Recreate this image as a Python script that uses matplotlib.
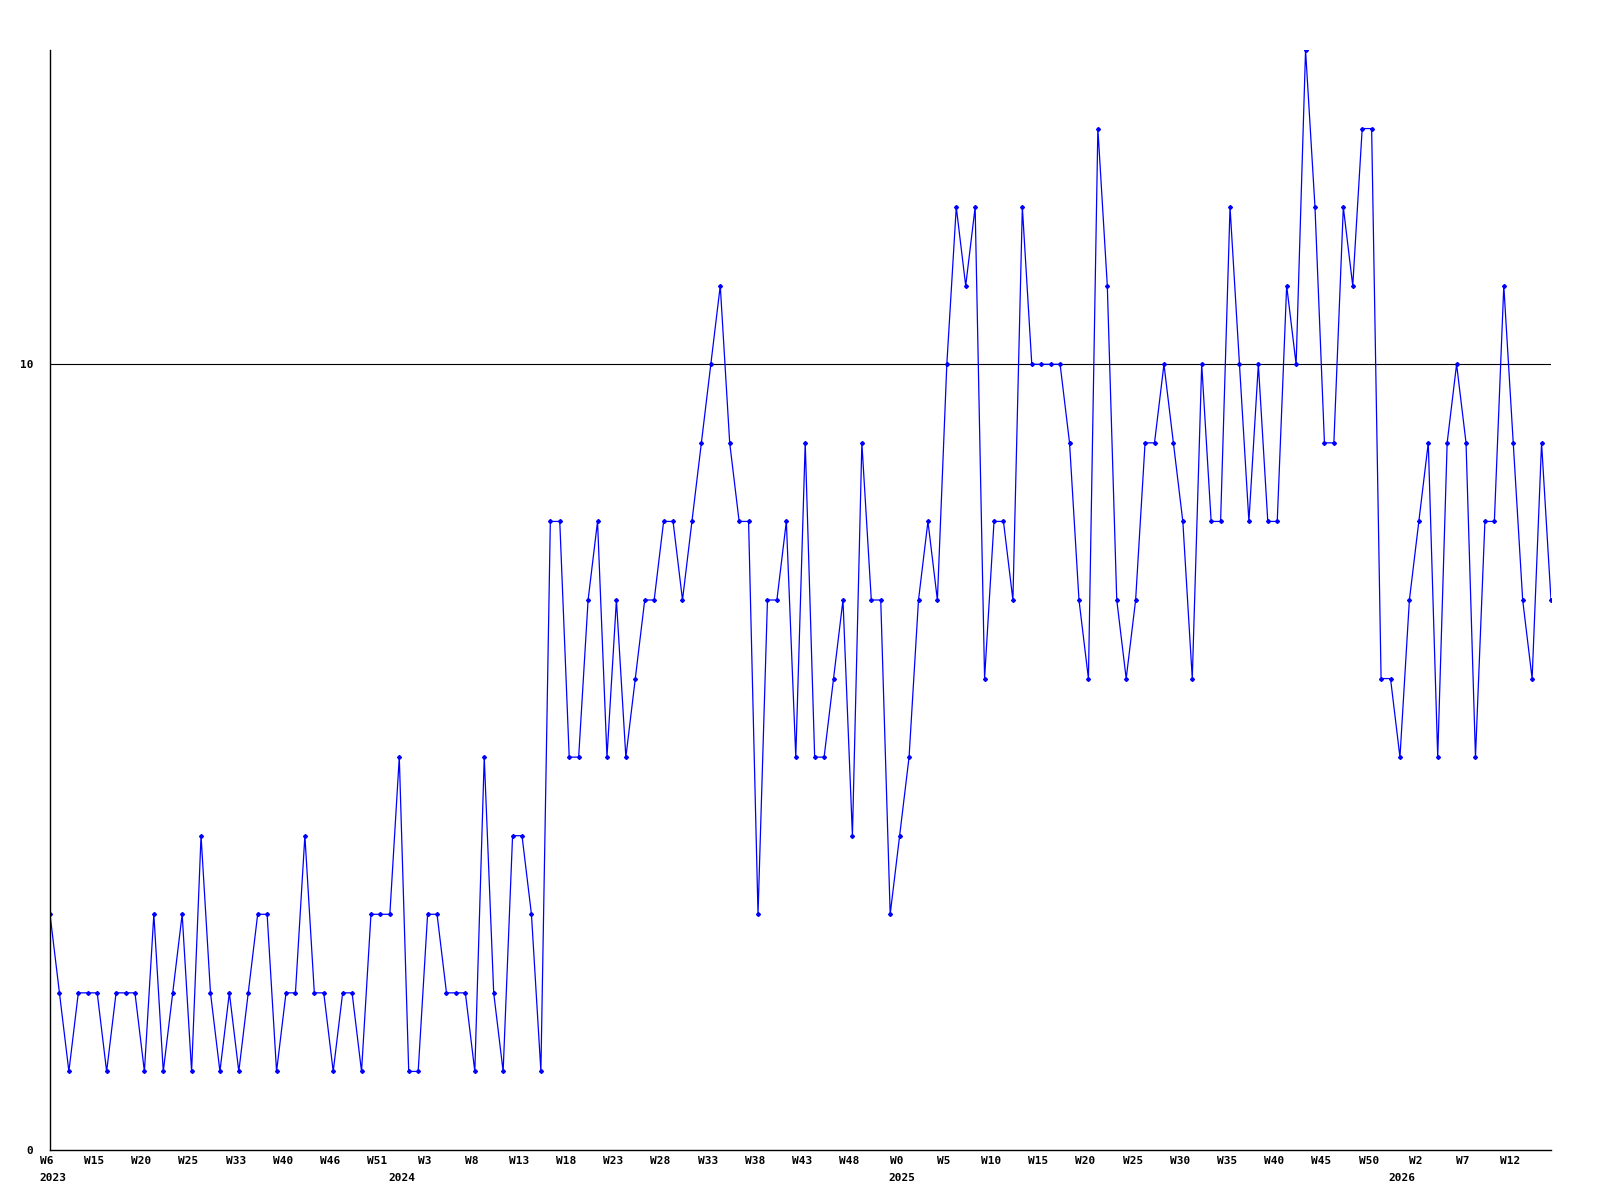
import matplotlib
matplotlib.use("Agg")
import matplotlib.pyplot as plt
import matplotlib.transforms as mtransforms

# weekly counts, one per point
values = [3, 2, 1, 2, 2, 2, 1, 2, 2, 2, 1, 3, 1, 2, 3, 1, 4, 2, 1, 2, 1,
          2, 3, 3, 1, 2, 2, 4, 2, 2, 1, 2, 2, 1, 3, 3, 3, 5, 1, 1, 3, 3, 2, 2, 2,
          1, 5, 2, 1, 4, 4, 3, 1, 8, 8, 5, 5, 7, 8, 5, 7, 5, 6, 7, 7, 8, 8, 7, 8, 9,
          10, 11, 9, 8, 8, 3, 7, 7, 8, 5, 9, 5, 5, 6, 7, 4, 9, 7, 7, 3, 4, 5, 7, 8,
          7, 10, 12, 11, 12, 6, 8, 8, 7, 12, 10, 10, 10, 10, 9, 7, 6, 13, 11, 7, 6, 7, 9, 9, 10,
          9, 8, 6, 10, 8, 8, 12, 10, 8, 10, 8, 8, 11, 10, 14, 12, 9, 9, 12, 11, 13, 13, 6, 6,
          5, 7, 8, 9, 5, 9, 10, 9, 5, 8, 8, 11, 9, 7, 6, 9, 7]

week_labels = ["W6", "W15", "W20", "W25", "W33", "W40", "W46", "W51", "W3", "W8",
               "W13", "W18", "W23", "W28", "W33", "W38", "W43", "W48", "W0", "W5",
               "W10", "W15", "W20", "W25", "W30", "W35", "W40", "W45", "W50", "W2",
               "W7", "W12"]
week_pos = list(range(0, 160, 5))

years = ["2023", "2024", "2025", "2026"]
year_pos = [0, 37, 90, 143]

ymax = 14
ref_line = 10

font = {"family": "DejaVu Sans Mono", "weight": "bold", "size": 8}

fig = plt.figure(figsize=(16, 12), dpi=100)
ax = fig.add_axes([50 / 1600, 50 / 1200, 1501 / 1600, 1100 / 1200])

x = list(range(len(values)))
ax.plot(x, values, color="#0000ff", lw=0.9, marker="D", ms=2.0,
        mec="#0000ff", mfc="#0000ff")
ax.axhline(ref_line, color="black", lw=0.8, zorder=0)

ax.set_xlim(0, len(values) - 1)
ax.set_ylim(0, ymax)

for side in ["top", "right"]:
    ax.spines[side].set_visible(False)
ax.spines["left"].set_linewidth(1.0)
ax.spines["bottom"].set_linewidth(1.0)

ax.set_yticks([0, ref_line])
ax.set_yticklabels(["0", "10"], **font)
ax.tick_params(axis="y", length=0, pad=12)

ax.set_xticks(week_pos)
ax.set_xticklabels(week_labels, **font)
ax.tick_params(axis="x", length=0, pad=4)
# labels sit a little left of the tick in the original
shift = mtransforms.ScaledTranslation(-3 / 100, 0, fig.dpi_scale_trans)
for lbl in ax.get_xticklabels():
    lbl.set_transform(lbl.get_transform() + shift)

trans = mtransforms.blended_transform_factory(ax.transData, ax.transAxes)
for yr, pos in zip(years, year_pos):
    ax.annotate(yr, xy=(pos, 0), xycoords=trans, xytext=(-8, -20),
                textcoords="offset points", ha="left", va="center", **font)

fig.savefig("out.png", dpi=100)
